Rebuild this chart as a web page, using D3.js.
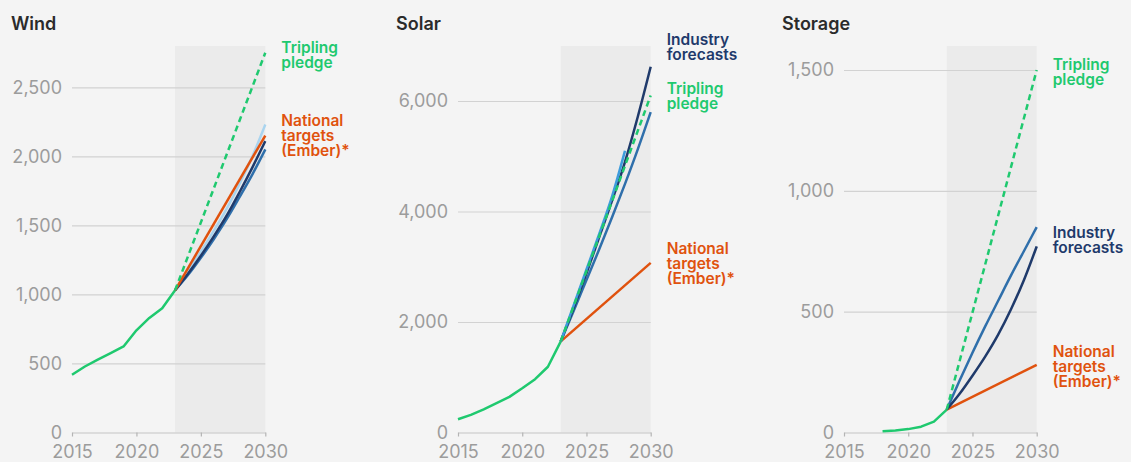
<!DOCTYPE html>
<html>
<head>
<meta charset="utf-8">
<script src="https://cdn.jsdelivr.net/npm/d3@7"></script>
<style>
  html, body { margin: 0; padding: 0; background: #f4f4f4; }
  svg { display: block; font-family: Inter, "Noto Sans", sans-serif; }
</style>
</head>
<body>
<svg id="chart" width="1131" height="462"></svg>
<script>
// ---- data ----
const histYearsWind = [2015, 2016, 2017, 2018, 2019, 2020, 2021, 2022, 2023];
const histWind = [418, 478, 528, 575, 623, 740, 830, 900, 1030];
const histYearsSolar = [2015, 2016, 2017, 2018, 2019, 2020, 2021, 2022, 2023];
const histSolar = [240, 320, 420, 530, 645, 800, 965, 1190, 1650];
const histYearsStorage = [2018, 2019, 2020, 2021, 2022, 2023];
const histStorage = [5, 8, 14, 24, 45, 95];

const targetYears = [2023, 2030];
const forecastYears = [2023, 2024, 2025, 2026, 2027, 2028, 2029, 2030];
const shortForecastYears = [2023, 2024, 2025, 2026, 2027, 2028];

const windPledge = [1030, 2750];
const windNational = [1030, 2150];
const windForecastLight = [1030, 1170, 1310, 1460, 1620, 1800, 2000, 2230];
const windForecastNavy = [1030, 1150, 1280, 1420, 1570, 1740, 1920, 2110];
const windForecastBlue = [1030, 1140, 1265, 1400, 1545, 1705, 1870, 2050];

const solarPledge = [1650, 6100];
const solarNational = [1650, 3070];
const solarForecastNavy = [1650, 2250, 2880, 3540, 4200, 4900, 5720, 6620];
const solarForecastBlue = [1650, 2200, 2760, 3320, 3900, 4500, 5130, 5800];
const solarForecastLight = [1650, 2300, 2950, 3600, 4280, 5100];

const storagePledge = [95, 1500];
const storageNational = [95, 280];
const storageForecastBlue = [95, 215, 330, 440, 545, 650, 750, 850];
const storageForecastNavy = [95, 160, 235, 315, 405, 510, 630, 770];

const windTicks = [0, 500, 1000, 1500, 2000, 2500];
const solarTicks = [0, 2000, 4000, 6000];
const storageTicks = [0, 500, 1000, 1500];
const yearTicks = [2015, 2020, 2025, 2030];

// ---- styles ----
const GREEN = '#1fc96f';
const ORANGE = '#e0520e';
const NAVY = '#1f3a6b';
const BLUE = '#2f6fab';
const LIGHT = '#a9d4ef';
const SKY = '#3d9cdc';

const svg = d3.select('#chart');
const fmt = d3.format(',');
const bottom = 432.5;
const shadeTop = 46;

function zip(xs, ys) {
  return xs.map((x, i) => ({ year: x, value: ys[i] }));
}

function drawPanel(p) {
  const x = d3.scaleLinear().domain([2015, 2030]).range([p.left, p.right]);
  const y = d3.scaleLinear().domain([0, p.ticks[p.ticks.length - 1]]).range([bottom, p.topTick]);
  const g = svg.append('g');

  g.append('rect')
    .attr('x', x(2023))
    .attr('y', shadeTop)
    .attr('width', x(2030) - x(2023))
    .attr('height', bottom - shadeTop)
    .attr('fill', '#ebebeb');

  g.append('text')
    .attr('x', p.titleX)
    .attr('y', 30)
    .attr('fill', '#2b2b2b')
    .attr('font-size', 18)
    .attr('font-weight', 600)
    .text(p.title);

  // gridlines + y labels
  const yAxis = g.append('g')
    .attr('transform', `translate(${p.left}, 0)`)
    .call(d3.axisLeft(y).tickValues(p.ticks).tickFormat(fmt)
      .tickSize(-(p.right - p.left)).tickPadding(10));
  yAxis.select('.domain').remove();
  yAxis.selectAll('.tick line')
    .attr('stroke', '#d2d2d2')
    .attr('stroke-width', 1.2)
    .filter(d => d === 0).remove();
  yAxis.selectAll('.tick text')
    .attr('fill', '#9c9c9c')
    .attr('font-size', 18)
    .attr('font-family', 'Inter, sans-serif');

  const xAxis = g.append('g')
    .attr('transform', `translate(0, ${bottom})`)
    .call(d3.axisBottom(x).tickValues(yearTicks).tickFormat(d3.format('d'))
      .tickSize(4).tickSizeOuter(0).tickPadding(9));
  xAxis.select('.domain').attr('stroke', '#c4c4c4').attr('stroke-width', 1.2);
  xAxis.selectAll('.tick line').attr('stroke', '#b4b4b4').attr('stroke-width', 1.2);
  xAxis.selectAll('.tick text')
    .attr('fill', '#9c9c9c')
    .attr('font-size', 18)
    .attr('font-family', 'Inter, sans-serif');

  const straight = d3.line()
    .x(d => x(d.year))
    .y(d => y(d.value));
  const smooth = d3.line()
    .x(d => x(d.year))
    .y(d => y(d.value))
    .curve(d3.curveMonotoneX);

  p.series.forEach(s => {
    g.append('path')
      .datum(zip(s.years, s.values))
      .attr('d', s.smooth ? smooth : straight)
      .attr('fill', 'none')
      .attr('stroke', s.color)
      .attr('stroke-width', s.width || 2.5)
      .attr('stroke-dasharray', s.dash || null)
      .attr('stroke-linejoin', 'round');
  });

  p.labels.forEach(l => {
    const t = g.append('text')
      .attr('x', p.right + 16)
      .attr('y', y(l.at))
      .attr('fill', l.color)
      .attr('font-size', 15.5)
      .attr('font-weight', 600);
    l.lines.forEach((s, i) => {
      t.append('tspan')
        .attr('x', p.right + 16)
        .attr('dy', i === 0 ? 0 : 15)
        .text(s);
    });
  });
}

drawPanel({
  title: 'Wind', titleX: 11, left: 72, right: 265.3, topTick: 87.3, ticks: windTicks,
  series: [
    { years: histYearsWind, values: histWind, color: GREEN },
    { years: forecastYears, values: windForecastLight, color: LIGHT, smooth: true },
    { years: forecastYears, values: windForecastBlue, color: BLUE, smooth: true },
    { years: forecastYears, values: windForecastNavy, color: NAVY, smooth: true },
    { years: targetYears, values: windNational, color: ORANGE },
    { years: targetYears, values: windPledge, color: GREEN, dash: '6,4' }
  ],
  labels: [
    { at: 2746, color: GREEN, lines: ['Tripling', 'pledge'] },
    { at: 2220, color: ORANGE, lines: ['National', 'targets', '(Ember)*'] }
  ]
});

drawPanel({
  title: 'Solar', titleX: 396, left: 458, right: 650.7, topTick: 101, ticks: solarTicks,
  series: [
    { years: histYearsSolar, values: histSolar, color: GREEN },
    { years: targetYears, values: solarNational, color: ORANGE },
    { years: forecastYears, values: solarForecastBlue, color: BLUE, smooth: true },
    { years: forecastYears, values: solarForecastNavy, color: NAVY, smooth: true },
    { years: shortForecastYears, values: solarForecastLight, color: SKY, smooth: true },
    { years: targetYears, values: solarPledge, color: GREEN, dash: '6,4' }
  ],
  labels: [
    { at: 7014, color: NAVY, lines: ['Industry', 'forecasts'] },
    { at: 6126, color: GREEN, lines: ['Tripling', 'pledge'] },
    { at: 3231, color: ORANGE, lines: ['National', 'targets', '(Ember)*'] }
  ]
});

drawPanel({
  title: 'Storage', titleX: 782, left: 844, right: 1036.7, topTick: 70, ticks: storageTicks,
  series: [
    { years: histYearsStorage, values: histStorage, color: GREEN },
    { years: targetYears, values: storageNational, color: ORANGE },
    { years: forecastYears, values: storageForecastBlue, color: BLUE, smooth: true },
    { years: forecastYears, values: storageForecastNavy, color: NAVY, smooth: true },
    { years: targetYears, values: storagePledge, color: GREEN, dash: '6,4' }
  ],
  labels: [
    { at: 1500, color: GREEN, lines: ['Tripling', 'pledge'] },
    { at: 805, color: NAVY, lines: ['Industry', 'forecasts'] },
    { at: 312, color: ORANGE, lines: ['National', 'targets', '(Ember)*'] }
  ]
});
</script>
</body>
</html>
